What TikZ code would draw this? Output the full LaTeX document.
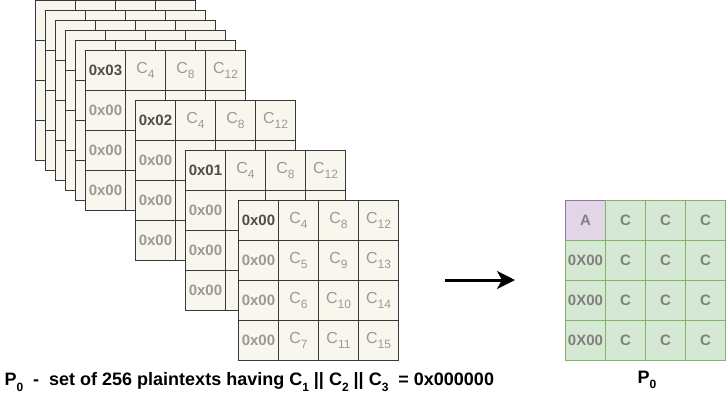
\documentclass[tikz,border=0pt]{standalone}
\usepackage{fontspec}
\setmainfont{Liberation Sans}
\usetikzlibrary{arrows.meta}
\definecolor{paperFill}{HTML}{F9F7ED}
\definecolor{paperLine}{HTML}{36393D}
\definecolor{labelDark}{HTML}{4D4D4D}
\definecolor{labelGray}{HTML}{999999}
\definecolor{stateGray}{HTML}{808080}
\definecolor{greenFill}{HTML}{D5E8D4}
\definecolor{greenLine}{HTML}{82B366}
\definecolor{purpleFill}{HTML}{E1D5E7}
\definecolor{purpleLine}{HTML}{9673A6}
\begin{document}
\begin{tikzpicture}[x=1pt,y=-1pt,
  cellbox/.style={draw=paperLine,fill=paperFill,line width=1pt,minimum size=40pt,inner sep=0pt,anchor=north west},
  greencell/.style={cellbox,draw=greenLine,fill=greenFill},
  purplecell/.style={cellbox,draw=purpleLine,fill=purpleFill},
  bytetxt/.style={font=\fontsize{15}{17}\selectfont\bfseries,text=labelGray},
  keytxt/.style={bytetxt,text=labelDark},
  ctxt/.style={font=\fontsize{16}{18}\selectfont,text=labelGray},
  statetxt/.style={font=\fontsize{15}{17}\selectfont\bfseries,text=stateGray}]

  \newcommand{\sub}[1]{\raisebox{-0.55ex}{\fontsize{12}{12}\selectfont #1}}
  % one 4x4 state: x, y, name
  \newcommand{\blk}[3]{%
    \foreach \i in {0,...,3} {\foreach \j in {0,...,3} {\node[cellbox] (#3-\i-\j) at (#1+40*\i,#2+40*\j) {};}}}
  % labelled state: x, y, name, first byte
  \newcommand{\lblk}[4]{%
    \blk{#1}{#2}{#3}
    \node[keytxt] at (#3-0-0) {#4};
    \foreach \j in {1,2,3} {\node[bytetxt] at (#3-0-\j) {0x00};}
    \foreach \i/\k in {1/4,2/8,3/12} {\node[ctxt] at (#3-\i-0) {C\sub{\k}};}}

  \useasboundingbox (0,0) rectangle (726,400);

  \begin{scope}
    % stack of plaintexts behind
    \foreach \n in {0,...,4} {\blk{35+10*\n}{10*\n}{bk\n}}
    \lblk{85}{50}{pt3}{0x03}
    \lblk{135}{100}{pt2}{0x02}
    \lblk{185}{150}{pt1}{0x01}
%
    \lblk{238}{200}{pt0}{0x00}
    \foreach \i in {1,2,3} {\foreach \j in {1,2,3} {%
      \pgfmathtruncatemacro{\k}{4*\i+\j}
      \node[ctxt] at (pt0-\i-\j) {C\sub{\k}};}}
  \end{scope}

  \node[anchor=west,font=\fontsize{18}{20}\selectfont\bfseries] (cap) at (1,382)
    {P\sub{0}\ \ -\ \ set of 256 plaintexts having C\sub{1} || C\sub{2} || C\sub{3}\ \ = 0x000000};

  % arrow
  \coordinate (arrS) at (445,280);
  \coordinate (arrE) at (515,280);
  \draw[line width=3pt,-{Stealth[length=18pt,width=18pt,inset=5pt]}] (arrS) -- (arrE);

  % resulting state P0
  \begin{scope}
    \node[purplecell] (st-0-0) at (565,200) {};
    \node[statetxt] at (st-0-0) {A};
    \foreach \i in {0,...,3} {\foreach \j in {0,...,3} {%
      \ifnum\i\j>0
        \node[greencell] (st-\i-\j) at (565+40*\i,200+40*\j) {};
        \ifnum\i=0
          \node[statetxt] at (st-\i-\j) {0X00};
        \else
          \node[statetxt] at (st-\i-\j) {C};
        \fi
      \fi}}
  \end{scope}
  \node[font=\fontsize{18}{20}\selectfont\bfseries] (plabel) at (647,380) {P\sub{0}};

\end{tikzpicture}
\end{document}
